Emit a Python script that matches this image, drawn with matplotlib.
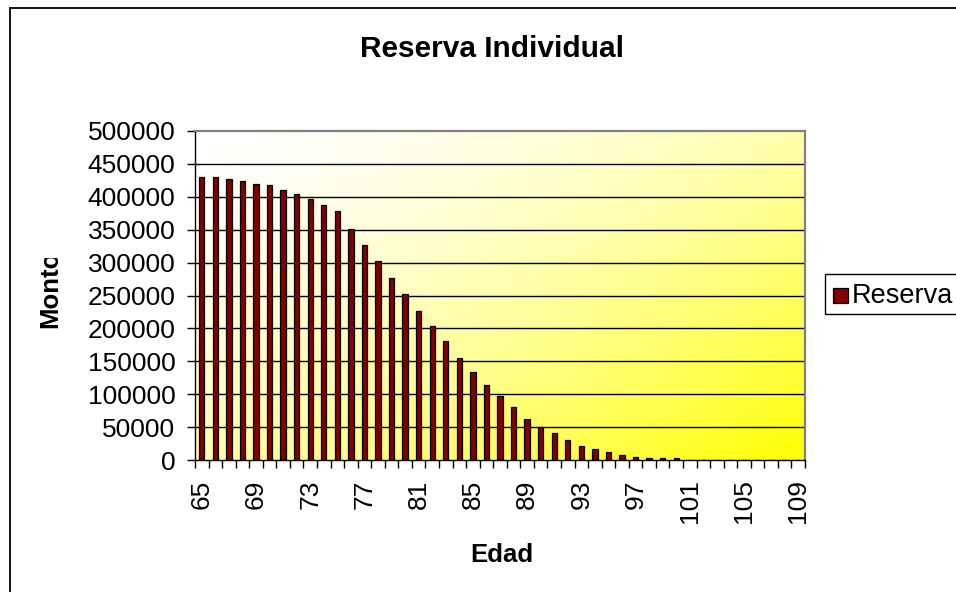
import numpy as np
import matplotlib
matplotlib.use("Agg")
import matplotlib.pyplot as plt
from matplotlib.patches import Rectangle
from matplotlib.lines import Line2D
from matplotlib.transforms import Bbox

plt.rcParams['font.family'] = ['Liberation Sans', 'DejaVu Sans']

# ---- data ----
ages = list(range(65, 110))
reserva = [430000, 430000, 427500, 424500, 420000, 417500, 410000, 404500,
           397000, 388000, 378500, 351500, 327500, 303000, 276500, 252500,
           226000, 203000, 180500, 155500, 134000, 114500, 97500, 80000,
           63000, 50000, 40500, 31000, 21500, 16500, 12000, 7000, 5000,
           2500, 2500, 2500, 0, 0, 0, 0, 0, 0, 0, 0, 0]
yticks = [0, 50000, 100000, 150000, 200000, 250000, 300000, 350000, 400000, 450000, 500000]
title = "Reserva Individual"
xlabel = "Edad"
ylabel = "Monto"
series_name = "Reserva"

W, H = 956, 592
fig = plt.figure(figsize=(W / 100, H / 100), dpi=100)
fig.patch.set_facecolor('white')

def fx(px):
    return px / W

def fy(py):
    return 1 - py / H

L, R, T, B = 195, 805, 131, 460
ax = fig.add_axes([fx(L), fy(B), fx(R) - fx(L), fy(T) - fy(B)])

n = len(ages)
x = np.arange(n)

# gradient background: white at top-left, yellow at bottom-right
gu = np.linspace(0, 1, 400)
gv = np.linspace(0, 1, 220)          # row 0 = top
U, V = np.meshgrid(gu, gv)
t = (U + V) / 2
img = np.zeros((len(gv), len(gu), 3))
img[..., 0] = 1
img[..., 1] = 1
img[..., 2] = 1 - t ** 1.6
ax.imshow(img, extent=[-0.5, n - 0.5, 0, 500000], aspect='auto', zorder=0,
          origin='upper', interpolation='bilinear')

ax.set_xlim(-0.5, n - 0.5)
ax.set_ylim(0, 500000)

for yv in yticks[1:-1]:
    ax.axhline(yv, color='black', lw=1.0, zorder=1)

ax.bar(x, reserva, width=0.4, color='#800000', edgecolor='black', linewidth=0.9,
       zorder=2, label=series_name)

ax.set_yticks(yticks)
ax.set_yticklabels([str(v) for v in yticks], fontsize=19)
ax.tick_params(axis='y', length=6, width=1, pad=8, direction='out')

ax.set_xticks(x[::4])
ax.set_xticklabels([str(a) for a in ages[::4]], rotation=90, fontsize=19, va='top')
ax.tick_params(axis='x', which='major', length=0, pad=14)
ax.set_xticks(np.arange(-0.5, n, 1), minor=True)
ax.tick_params(axis='x', which='minor', length=6, width=1, direction='out')

for s in ['left', 'bottom']:
    ax.spines[s].set_color('black')
    ax.spines[s].set_linewidth(1.0)
for s in ['top', 'right']:
    ax.spines[s].set_color('#808080')
    ax.spines[s].set_linewidth(1.6)

# title & axis labels
fig.text(fx(492), fy(57), title, ha='center', va='baseline', fontsize=21.5,
         fontweight='bold')
fig.text(fx(502), fy(555), xlabel, ha='center', va='center', fontsize=18.5,
         fontweight='bold')
ylab = fig.text(fx(50), fy(289), ylabel, ha='center', va='center', rotation=90,
                fontsize=18.5, fontweight='bold')
ylab.set_clip_box(Bbox([[0, 0], [W, H - 258]]))
ylab.set_clip_on(True)

# legend box (extends past the right edge)
fig.patches.append(Rectangle((fx(825), fy(314)), fx(1000) - fx(825), fy(274) - fy(314),
                             transform=fig.transFigure, facecolor='white',
                             edgecolor='black', lw=1.0, zorder=3))
fig.patches.append(Rectangle((fx(833), fy(303)), fx(848) - fx(833), fy(288) - fy(303),
                             transform=fig.transFigure, facecolor='#800000',
                             edgecolor='black', lw=0.9, zorder=4))
fig.text(fx(852), fy(296), series_name, ha='left', va='center', fontsize=19.5, zorder=5)

# outer chart border
fig.lines.append(Line2D([fx(10), fx(10)], [fy(7.5), 0], transform=fig.transFigure,
                        color='black', lw=1.3))
fig.lines.append(Line2D([fx(10), 1], [fy(7.5), fy(7.5)], transform=fig.transFigure,
                        color='black', lw=1.3))

fig.savefig('out.png', dpi=100)
